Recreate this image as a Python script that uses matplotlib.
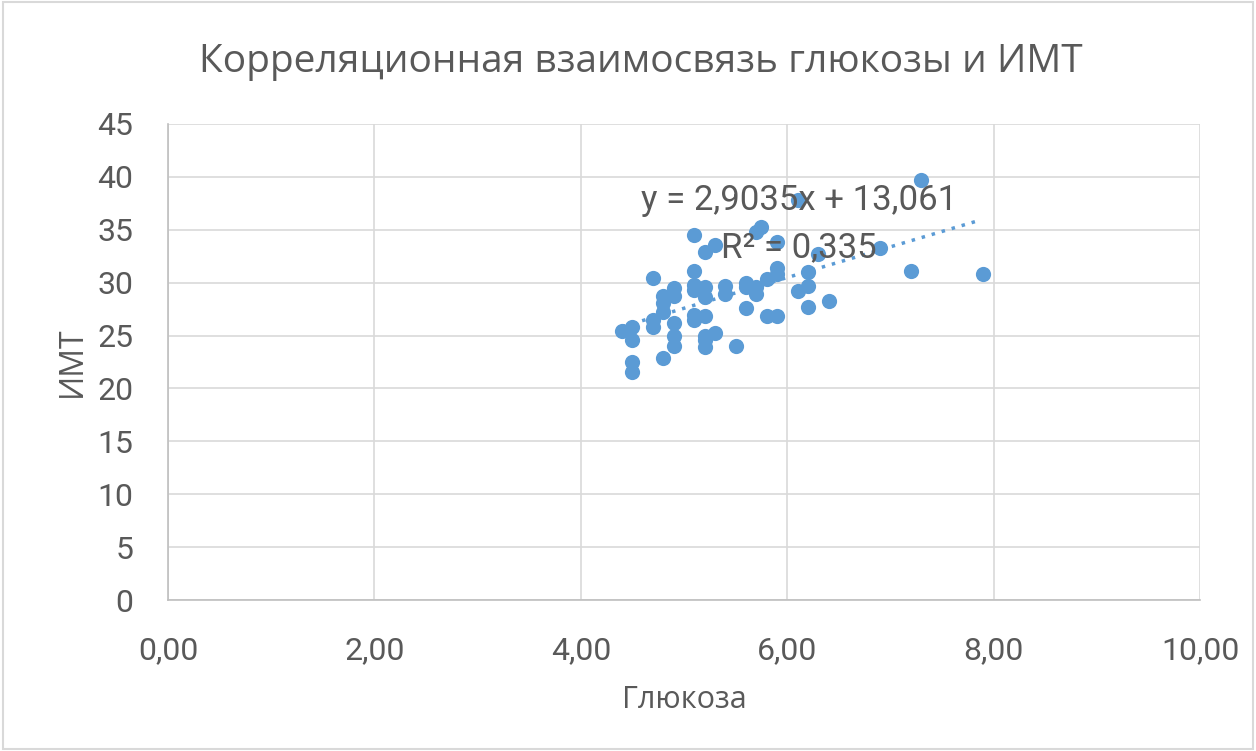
import matplotlib.pyplot as plt
from matplotlib.ticker import FuncFormatter, MultipleLocator
from matplotlib.patches import Rectangle

plt.rcParams['font.family'] = ['Roboto', 'DejaVu Sans']

# Глюкоза (x) и ИМТ (y)
glucose = [4.4, 4.5, 4.5, 4.5, 4.5, 4.7, 4.7, 4.7, 4.8, 4.8, 4.8, 4.8,
           4.9, 4.9, 4.9, 4.9, 4.9, 5.1, 5.1, 5.1, 5.1, 5.1, 5.1,
           5.2, 5.2, 5.2, 5.2, 5.2, 5.2, 5.2, 5.3, 5.3, 5.4, 5.4, 5.5,
           5.6, 5.6, 5.6, 5.7, 5.7, 5.7, 5.75, 5.8, 5.8, 5.9, 5.9, 5.9, 5.9,
           6.1, 6.1, 6.2, 6.2, 6.2, 6.3, 6.4, 6.9, 7.2, 7.3, 7.9]
bmi = [25.4, 25.8, 24.6, 22.5, 21.6, 30.4, 26.5, 25.8, 28.7, 28.1, 27.2, 22.9,
       29.5, 28.7, 26.2, 25.0, 24.0, 34.5, 31.1, 29.8, 29.3, 26.9, 26.5,
       32.9, 29.6, 28.6, 26.8, 25.0, 24.6, 23.9, 33.6, 25.2, 29.7, 28.9, 24.0,
       30.0, 29.6, 27.6, 29.6, 28.9, 34.8, 35.3, 26.8, 30.3, 26.8, 31.4, 30.8, 33.8,
       29.2, 37.8, 31.0, 29.7, 27.7, 32.7, 28.3, 33.3, 31.1, 39.7, 30.8]

# линия тренда (как в подписи)
slope, intercept, r2 = 2.9035, 13.061, 0.335

blue = '#5B9BD5'
grey = '#595959'
label_font = ['Open Sans', 'DejaVu Sans']

fig = plt.figure(figsize=(12.56, 7.51), dpi=100)
ax = fig.add_axes([0.1338, 0.201, 0.8217, 0.634])

ax.scatter(glucose, bmi, s=120, color=blue, zorder=3, linewidths=0)

x0, x1 = min(glucose), max(glucose) - 0.05
ax.plot([x0, x1], [slope * x0 + intercept, slope * x1 + intercept],
        linestyle=(0, (1, 2)), color=blue, linewidth=2.5, zorder=2)

ax.text(6.11, 37.8, f"y = {slope:.4f}x + {intercept:.3f}".replace('.', ','),
        ha='center', va='center', fontsize=25, color=grey, zorder=4)
ax.text(6.11, 33.3, f"R² = {r2:.3f}".replace('.', ','),
        ha='center', va='center', fontsize=25, color=grey, zorder=4)

ax.set_xlim(0, 10)
ax.set_ylim(0, 45)
ax.xaxis.set_major_locator(MultipleLocator(2))
ax.yaxis.set_major_locator(MultipleLocator(5))
ax.xaxis.set_major_formatter(FuncFormatter(lambda v, p: f"{v:.2f}".replace('.', ',')))

ax.grid(True, color='#D9D9D9', linewidth=1.2)
ax.set_axisbelow(True)
for side in ['top', 'right']:
    ax.spines[side].set_visible(False)
for side in ['left', 'bottom']:
    ax.spines[side].set_color('#BFBFBF')
    ax.spines[side].set_linewidth(1.2)
ax.tick_params(axis='both', length=0, labelsize=23, colors=grey)
ax.tick_params(axis='x', pad=26)
ax.tick_params(axis='y', pad=25)

fig.text(0.51, 0.918, "Корреляционная взаимосвязь глюкозы и ИМТ", fontsize=28,
         color=grey, ha='center', va='center', family=label_font)
ax.set_xlabel("Глюкоза", fontsize=22, color=grey, labelpad=14, family=label_font)
ax.set_ylabel("ИМТ", fontsize=23, color=grey, labelpad=6, family=label_font)

fig.patches.append(Rectangle((0.002, 0.002), 0.996, 0.996, transform=fig.transFigure,
                             fill=False, edgecolor='#D9D9D9', linewidth=1.5))

fig.savefig('out.png', dpi=100)
